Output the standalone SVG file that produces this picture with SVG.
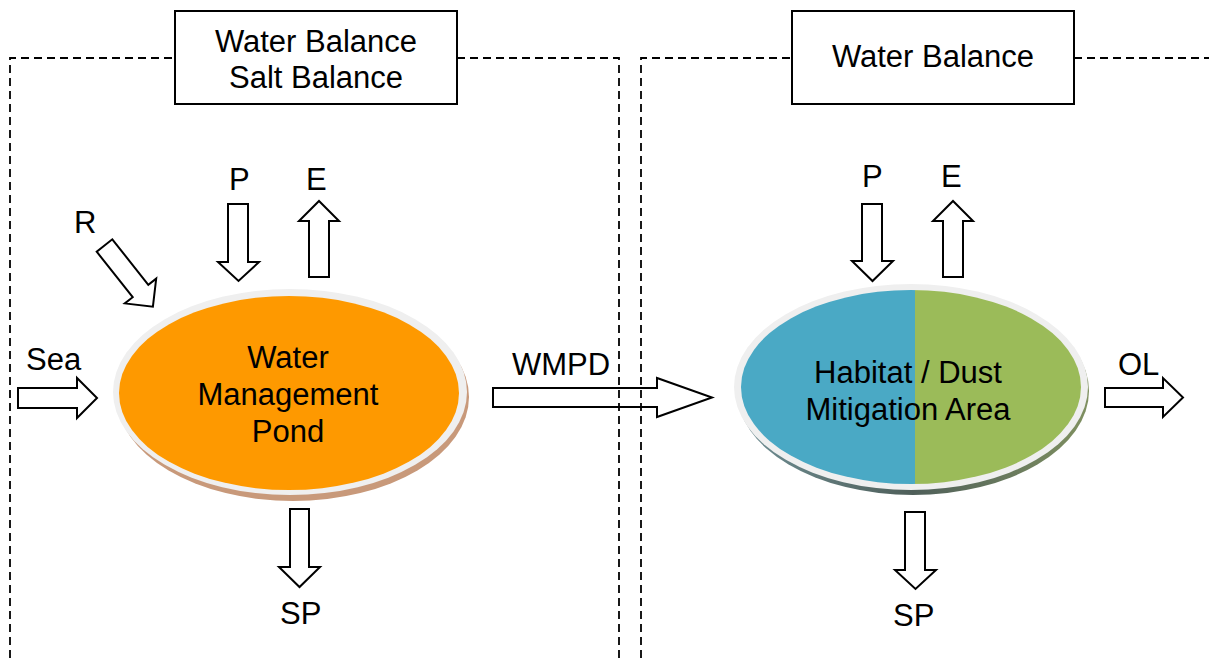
<svg xmlns="http://www.w3.org/2000/svg" width="1209" height="658" viewBox="0 0 1209 658">
  <style>
    .lbl { font-family: "Liberation Sans", Arial, sans-serif; font-size: 31px; fill: #000; }
    .mid { text-anchor: middle; }
    .flow { fill: #fff; stroke: #000; stroke-width: 2; stroke-linejoin: miter; }
    .hdr { fill: #fff; stroke: #000; stroke-width: 2; }
    .bound { fill: none; stroke: #000; stroke-width: 1.8; stroke-dasharray: 8 5; }
    .rim { fill: #efefef; }
  </style>
  <defs>
    <clipPath id="habClip">
      <ellipse cx="911" cy="387" rx="170" ry="97"/>
    </clipPath>
    <linearGradient id="habShadow" x1="0" y1="0" x2="1" y2="0">
      <stop offset="0" stop-color="#6f8f95"/>
      <stop offset="0.5" stop-color="#4f5f5a"/>
      <stop offset="1" stop-color="#7f9060"/>
    </linearGradient>
  </defs>

  <rect width="1209" height="658" fill="#fff"/>

  <!-- Water management pond -->
  <g id="pond">
    <ellipse cx="293" cy="397" rx="176" ry="104" fill="#c8997a"/>
    <ellipse class="rim" cx="290" cy="392" rx="177" ry="103"/>
    <ellipse cx="289" cy="393" rx="170" ry="97" fill="#fe9900"/>
    <text class="lbl mid" x="288" y="368">Water</text>
    <text class="lbl mid" x="288" y="405">Management</text>
    <text class="lbl mid" x="288" y="442">Pond</text>
  </g>

  <!-- Habitat / dust mitigation area -->
  <g id="habitat">
    <ellipse cx="913" cy="391" rx="176" ry="104" fill="url(#habShadow)"/>
    <ellipse class="rim" cx="911" cy="387" rx="177" ry="103"/>
    <g clip-path="url(#habClip)">
      <rect x="735" y="285" width="180" height="210" fill="#4aa9c5"/>
      <rect x="915" y="285" width="180" height="210" fill="#9bbb59"/>
    </g>
    <text class="lbl mid" x="908" y="383">Habitat / Dust</text>
    <text class="lbl mid" x="908" y="420">Mitigation Area</text>
  </g>

  <!-- Flow arrows and their labels -->
  <g id="connectors">
    <polygon class="flow" points="228,204 248,204 248,262 259,262 238.5,281 218,262 228,262"/>
    <polygon class="flow" points="309,277 329,277 329,221 339,221 319,201 299,221 309,221"/>
    <polygon class="flow" points="112.3,239.3 148.3,284.8 156.2,278.6 152.9,306.7 124.8,303.4 132.7,297.2 96.7,251.7"/>
    <polygon class="flow" points="18,388 77,388 77,378 97,398 77,418 77,408 18,408"/>
    <polygon class="flow" points="290,509 309,509 309,567 320,567 299.5,587 279,567 290,567"/>
    <polygon class="flow" points="493,388 657,388 657,378 712,397.5 657,417 657,407 493,407"/>
    <polygon class="flow" points="862,204 882,204 882,261 893,261 872.5,281 852,261 862,261"/>
    <polygon class="flow" points="943,277 963,277 963,221 973,221 953,201 933,221 943,221"/>
    <polygon class="flow" points="905,512 925,512 925,570 936,570 915.5,589 895,570 905,570"/>
    <polygon class="flow" points="1105,388 1163,388 1163,378 1183,397.5 1163,417 1163,407 1105,407"/>

    <text class="lbl" x="229" y="190">P</text>
    <text class="lbl" x="306" y="190">E</text>
    <text class="lbl" x="74" y="233">R</text>
    <text class="lbl" x="26" y="370">Sea</text>
    <text class="lbl" x="280" y="624">SP</text>
    <text class="lbl" x="512" y="375">WMPD</text>
    <text class="lbl" x="862" y="187">P</text>
    <text class="lbl" x="941" y="187">E</text>
    <text class="lbl" x="893" y="626">SP</text>
    <text class="lbl" x="1118" y="375">OL</text>
  </g>

  <!-- System boundaries -->
  <g id="boundaries">
    <path class="bound" d="M10,658 V58 H175 M457,58 H619 V658"/>
    <path class="bound" d="M641,658 V58 H792 M1074,58 H1209"/>
  </g>

  <g id="header-left">
    <rect class="hdr" x="175" y="11" width="282" height="93"/>
    <text class="lbl mid" x="316" y="52">Water Balance</text>
    <text class="lbl mid" x="316" y="88">Salt Balance</text>
  </g>

  <g id="header-right">
    <rect class="hdr" x="792" y="11" width="282" height="93"/>
    <text class="lbl mid" x="933" y="67">Water Balance</text>
  </g>
</svg>
